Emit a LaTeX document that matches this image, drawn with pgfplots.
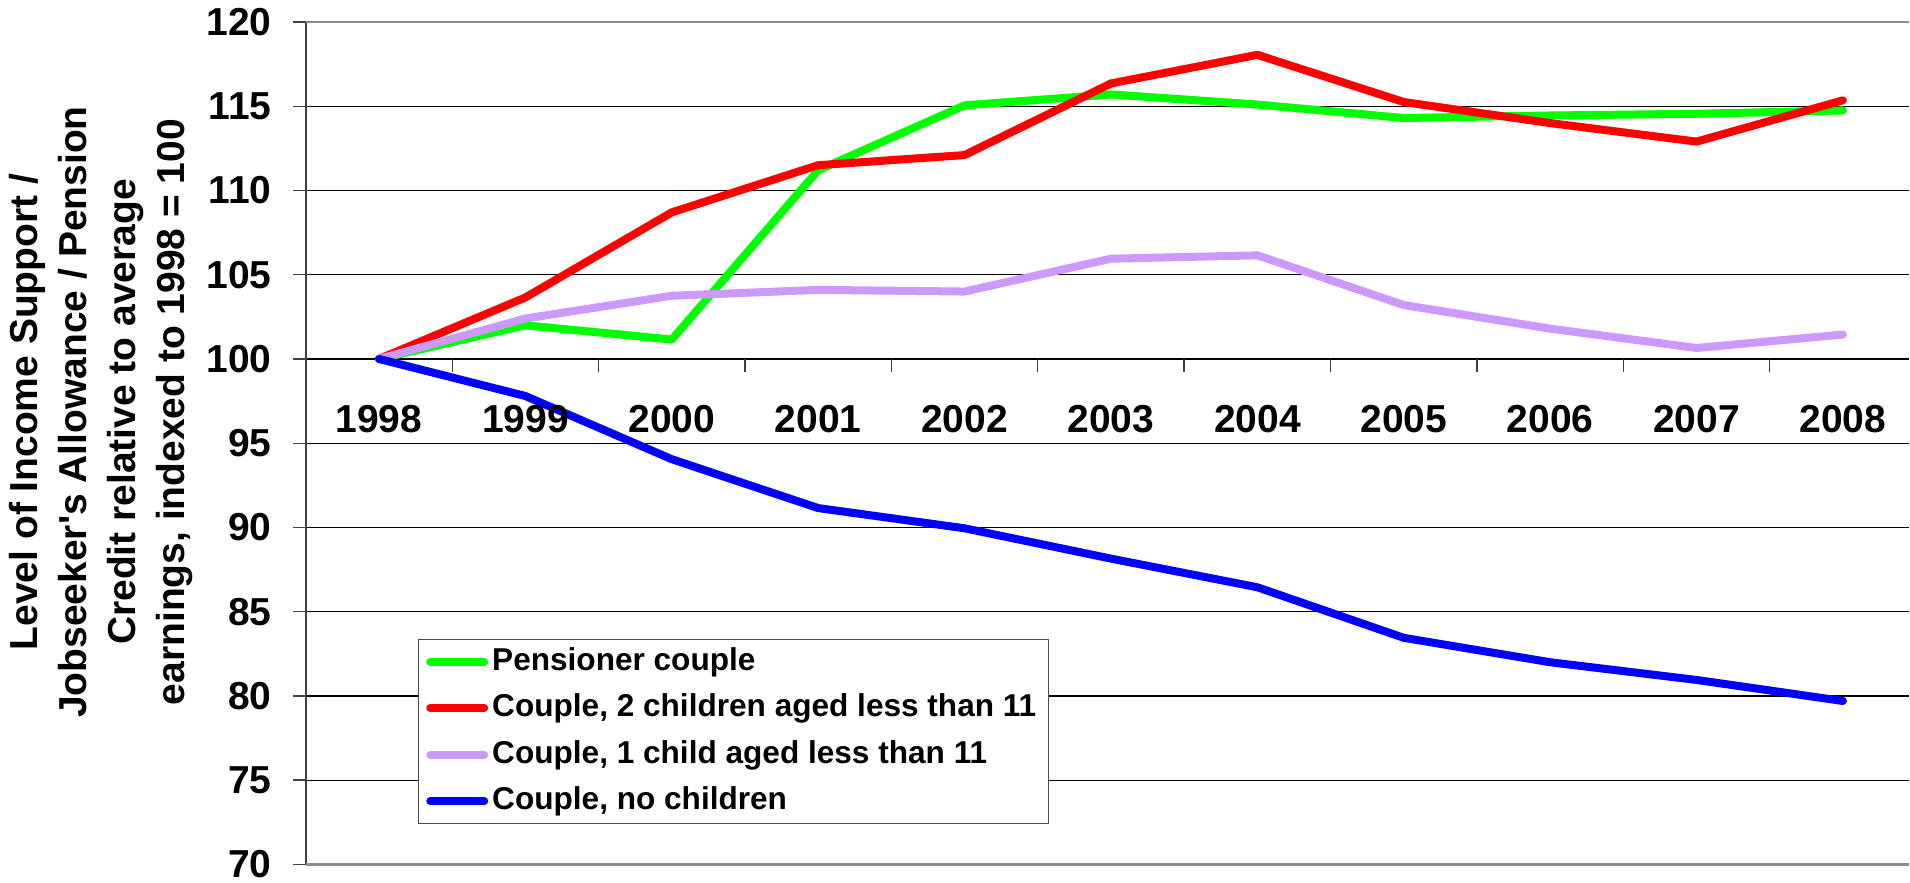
\documentclass[border=0pt]{standalone}
\usepackage{fontspec}
\setmainfont{Liberation Sans}[Ligatures=TeXOff]
\usepackage{pgfplots}
\pgfplotsset{compat=1.18}
\usepackage{pgfplotstable}
\definecolor{cgreen}{HTML}{00FF00}
\definecolor{cred}{HTML}{FF0000}
\definecolor{cpurple}{HTML}{CC99FF}
\definecolor{cblue}{HTML}{0000FF}
\pgfplotstableread{
x green red purple blue
0 100 100 100 100
1 102.0 103.65 102.4 97.8
2 101.15 108.7 103.75 94.05
3 111.2 111.5 104.1 91.15
4 115.05 112.1 104.0 89.95
5 115.7 116.35 105.95 88.15
6 115.1 118.05 106.15 86.45
7 114.3 115.25 103.2 83.45
8 114.45 114.0 101.8 82.0
9 114.55 112.9 100.65 80.95
10 114.75 115.35 101.45 79.7
}\datatable
\begin{document}
\begin{tikzpicture}
\begin{axis}[
  scale only axis, width=802pt, height=421.5pt,
  xmin=-0.5, xmax=10.45, ymin=70, ymax=120,
  axis x line=none, axis y line=left,
  y axis line style={-, draw=black!75, line width=0.8pt},
  ytick={70,75,...,120},
  tick align=outside, major tick length=6.5pt,
  tick style={black!75, line width=0.7pt},
  ymajorgrids, grid style={black, line width=0.6pt},
  extra y ticks={70,120}, extra y tick labels={},
  extra y tick style={grid style={black!45, line width=1.2pt}, major tick length=0pt},
  /pgf/number format/assume math mode=true,
  yticklabel style={font=\fontsize{19.5}{22}\selectfont\bfseries, inner sep=0pt, xshift=-10.5pt},
  ylabel={Level of Income Support /\\Jobseeker's Allowance / Pension\\Credit relative to average\\earnings, indexed to 1998 = 100},
  ylabel style={align=center, font=\fontsize{19.5}{24.5}\selectfont\bfseries, at={(axis description cs:-0.1278,0.537)}, anchor=center},
  legend image code/.code={\draw[#1, line cap=round] (0pt,0pt) -- (27pt,0pt);},
  legend style={at={(axis description cs:0.0698,0.268)}, anchor=north west,
    draw=black!70, line width=0.6pt, fill=white,
    font=\fontsize{15.8}{19}\selectfont\bfseries,
    inner xsep=4pt, inner ysep=2pt, row sep=4.75pt,
    nodes={inner sep=2pt, text height=11.5pt, text depth=3pt}},
  legend cell align=left,
  every axis plot/.append style={line width=4pt, line cap=round, line join=round},
]
\addplot[cgreen] table[x=x, y=green] {\datatable};
\addlegendentry{Pensioner couple}
\addplot[cred] table[x=x, y=red] {\datatable};
\addlegendentry{Couple, 2 children aged less than 11}
\addplot[cpurple] table[x=x, y=purple] {\datatable};
\addlegendentry{Couple, 1 child aged less than 11}
\addplot[cblue] table[x=x, y=blue] {\datatable};
\addlegendentry{Couple, no children}
\end{axis}
\begin{axis}[
  scale only axis, width=802pt, height=421.5pt,
  xmin=-0.5, xmax=10.45, ymin=-30, ymax=20,
  axis y line=none, axis x line=middle,
  x axis line style={-, draw=none},
  hide obscured x ticks=false,
  xtick={0,...,10},
  xticklabels={1998,1999,2000,2001,2002,2003,2004,2005,2006,2007,2008},
  minor xtick={0.5,1.5,...,9.5},
  tick align=outside, major tick length=0pt, minor tick length=6.5pt,
  tick style={black!75, line width=0.7pt},
  xticklabel style={font=\fontsize{19.5}{22}\selectfont\bfseries, anchor=center, inner sep=0pt, yshift=-30pt},
  /pgf/number format/assume math mode=true,
]
\end{axis}
\path ([shift={(-153pt,-9pt)}]current axis.south west) rectangle ([shift={(0pt,11pt)}]current axis.north east);
\end{tikzpicture}
\end{document}
